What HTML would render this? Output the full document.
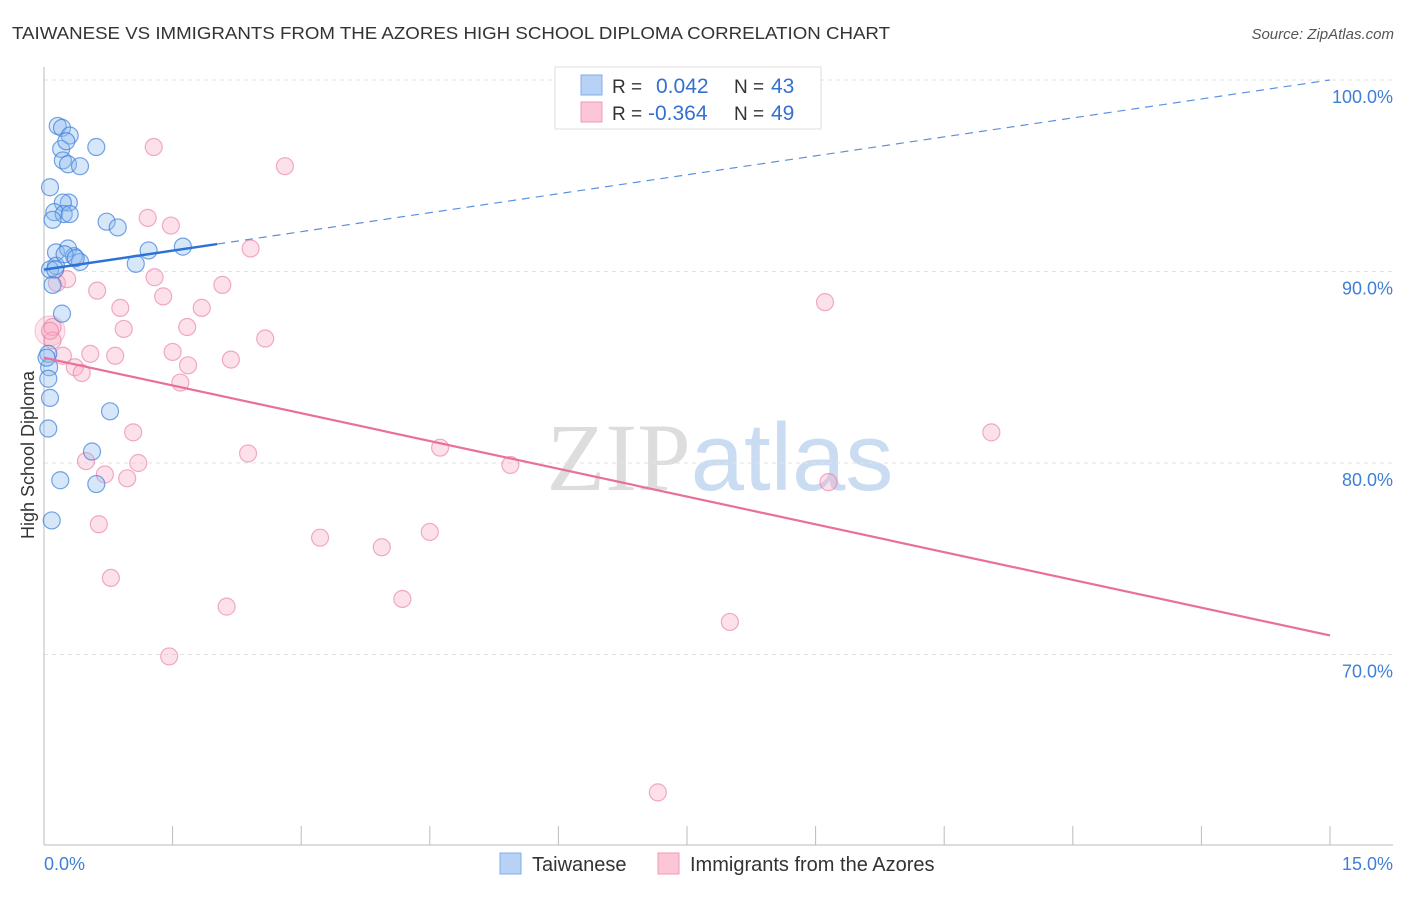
<!DOCTYPE html>
<html><head><meta charset="utf-8"><style>
body{margin:0;background:#fff;width:1406px;height:892px;overflow:hidden;font-family:"Liberation Sans",sans-serif}
svg text{font-family:"Liberation Sans",sans-serif}
</style></head><body>
<svg id="chart" width="1406" height="892" xmlns="http://www.w3.org/2000/svg">
<text x="12" y="39" font-size="17.5" fill="#333" textLength="878" lengthAdjust="spacingAndGlyphs">TAIWANESE VS IMMIGRANTS FROM THE AZORES HIGH SCHOOL DIPLOMA CORRELATION CHART</text>
<text x="1394" y="39" font-size="15" fill="#555" text-anchor="end" font-style="italic">Source: ZipAtlas.com</text>
<text x="720" y="490" font-size="96" text-anchor="middle"><tspan fill="#ddd" font-family="Liberation Serif">ZIP</tspan><tspan fill="#c9dcf2">atlas</tspan></text>
<g id="grid"></g>
<g id="axes"></g>
<g id="marks"></g>
<text transform="translate(34,455) rotate(-90)" font-size="18" fill="#333" text-anchor="middle">High School Diploma</text>
<g>
<rect x="555" y="67" width="266" height="62" fill="#fff" stroke="#ddd"/>
<rect x="581" y="75" width="21" height="20" fill="#b7d2f5" stroke="#7faee8"/>
<rect x="581" y="102" width="21" height="20" fill="#fbc6d5" stroke="#f29ab4"/>
<text x="612" y="93" font-size="19" fill="#333">R = </text><text x="656" y="93" font-size="21" fill="#3470d0">0.042</text>
<text x="734" y="93" font-size="19" fill="#333">N = </text><text x="771" y="93" font-size="21" fill="#3470d0">43</text>
<text x="612" y="120" font-size="19" fill="#333">R = </text><text x="648" y="120" font-size="21" fill="#3470d0">-0.364</text>
<text x="734" y="120" font-size="19" fill="#333">N = </text><text x="771" y="120" font-size="21" fill="#3470d0">49</text>
</g>
<g>
<rect x="500" y="853" width="21" height="21" fill="#b7d2f5" stroke="#7faee8"/>
<text x="532" y="871" font-size="20" fill="#333">Taiwanese</text>
<rect x="658" y="853" width="21" height="21" fill="#fbc6d5" stroke="#f29ab4"/>
<text x="690" y="871" font-size="20" fill="#333">Immigrants from the Azores</text>
</g>
</svg>
<script>
const xTicks=[0,1.5,3,4.5,6,7.5,9,10.5,12,13.5,15];
const yTicks=[70,80,90,100];
const yTickLabels=["70.0%","80.0%","90.0%","100.0%"];
const blueX=[0.16,0.21,0.30,0.20,0.26,0.61,0.22,0.28,0.42,0.07,0.29,0.22,0.12,0.23,0.10,0.73,0.86,0.14,0.28,0.35,0.42,1.22,1.62,1.07,0.14,0.07,0.10,0.21,0.05,0.06,0.05,0.07,0.05,0.77,0.56,0.19,0.61,0.09,0.24,0.37,0.03,0.13,0.30];
const blueY=[97.6,97.5,97.1,96.4,96.8,96.5,95.8,95.6,95.5,94.4,93.6,93.6,93.1,93.0,92.7,92.6,92.3,91.0,91.2,90.8,90.5,91.1,91.3,90.4,90.3,90.1,89.3,87.8,85.7,85.0,84.4,83.4,81.8,82.7,80.6,79.1,78.9,77.0,90.9,90.7,85.5,90.1,93.0];
const pinkX=[1.28,2.81,1.21,1.48,2.41,1.29,2.08,0.62,1.39,1.84,0.89,0.10,0.10,0.93,1.67,2.58,1.50,0.54,0.83,2.18,1.68,0.22,0.36,0.44,1.59,1.04,2.38,4.62,0.49,1.10,0.71,0.97,5.44,0.64,3.22,3.94,4.50,0.78,2.13,4.18,1.46,8.00,7.16,9.11,11.05,9.15,0.15,0.27,0.07];
const pinkY=[96.5,95.5,92.8,92.4,91.2,89.7,89.3,89.0,88.7,88.1,88.1,87.1,86.4,87.0,87.1,86.5,85.8,85.7,85.6,85.4,85.1,85.6,85.0,84.7,84.2,81.6,80.5,80.8,80.1,80.0,79.4,79.2,79.9,76.8,76.1,75.6,76.4,74.0,72.5,72.9,69.9,71.7,62.8,88.4,81.6,79.0,89.4,89.6,86.9];
const blueFit=[90.1,0.66];
const pinkFit=[85.5,-0.967];
const blueSolidEnd=2.02;
const NS="http://www.w3.org/2000/svg";
const X=v=>44+v*1286/15;
const Y=v=>80+(100-v)*19.15;
function mk(p,t,a){const e=document.createElementNS(NS,t);for(const k in a)e.setAttribute(k,a[k]);p.appendChild(e);return e;}
const grid=document.getElementById('grid'),axes=document.getElementById('axes'),marks=document.getElementById('marks');
yTicks.forEach((t,i)=>{
 const l=mk(grid,'line',{x1:44,x2:1393,y1:Y(t),y2:Y(t),stroke:'#e2e2e2','stroke-dasharray':'4,4'});
 
 
 const tx=mk(axes,'text',{x:1393,y:Y(t)+23,'font-size':18,fill:'#3f7fd6','text-anchor':'end'});
 tx.textContent=yTickLabels[i];
 
 
});
mk(axes,'line',{x1:44,x2:44,y1:67,y2:845,stroke:'#bbb'});
mk(axes,'line',{x1:44,x2:1393,y1:845,y2:845,stroke:'#bbb'});
xTicks.forEach(t=>{
 const l=mk(axes,'line',{x1:X(t),x2:X(t),y1:826,y2:845,stroke:'#bbb'});
 
 
});
const xl0=mk(axes,'text',{x:44,y:870,'font-size':18,fill:'#3f7fd6'});xl0.textContent=xTicks[0].toFixed(1)+'%';


const xl1=mk(axes,'text',{x:1393,y:870,'font-size':18,fill:'#3f7fd6','text-anchor':'end'});xl1.textContent=xTicks[xTicks.length-1].toFixed(1)+'%';


const big=mk(marks,'circle',{cx:X(0.07),cy:Y(86.9),r:15,fill:'rgba(244,150,180,0.25)',stroke:'rgba(232,120,160,0.4)'});


pinkX.forEach((v,i)=>{
 const c=mk(marks,'circle',{cx:X(v),cy:Y(pinkY[i]),r:8.5,fill:'rgba(248,170,195,0.35)',stroke:'rgba(232,120,160,0.6)','stroke-width':1.2});
 
 
});
blueX.forEach((v,i)=>{
 const c=mk(marks,'circle',{cx:X(v),cy:Y(blueY[i]),r:8.5,fill:'rgba(140,185,240,0.35)',stroke:'rgba(60,125,215,0.7)','stroke-width':1.2});
 
 
});
const f=(fit,x)=>fit[0]+fit[1]*x;
const bl=mk(marks,'line',{x1:X(0),y1:Y(f(blueFit,0)),x2:X(blueSolidEnd),y2:Y(f(blueFit,blueSolidEnd)),stroke:'#2f72d6','stroke-width':2.5});


const bd=mk(marks,'line',{x1:X(blueSolidEnd),y1:Y(f(blueFit,blueSolidEnd)),x2:X(15),y2:Y(f(blueFit,15)),stroke:'#5b90dc','stroke-width':1.2,'stroke-dasharray':'8,6'});


const pl=mk(marks,'line',{x1:X(0),y1:Y(f(pinkFit,0)),x2:X(15),y2:Y(f(pinkFit,15)),stroke:'#e8709a','stroke-width':2.2});


</script>
</body></html>
